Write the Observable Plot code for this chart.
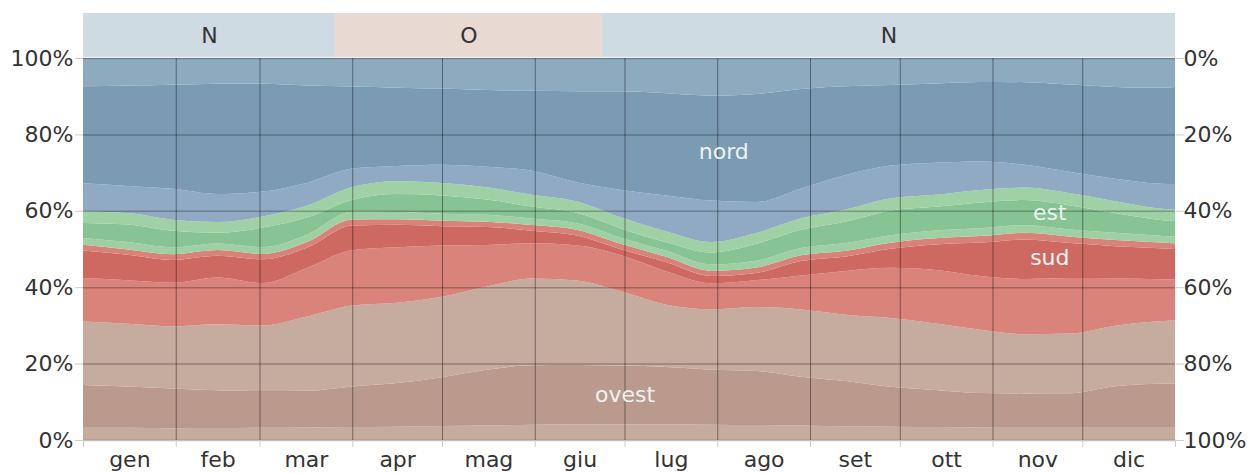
<!DOCTYPE html>
<html><head><meta charset="utf-8">
<script src="https://cdn.jsdelivr.net/npm/d3@7"></script>
<script src="https://cdn.jsdelivr.net/npm/@observablehq/plot@0.6"></script>
<style>body{margin:0;background:#fff;} svg{display:block;}</style>
</head><body><div id="chart"></div>
<script>
// ---- data (percent of hours, per band, sampled by day of year) ----
const days = [0,15,30,45,60,75,90,105,120,135,150,165,180,195,210,225,240,255,270,285,300,315,330,345,360,365];
const ovestNO = [3.2,3.2,3.1,3.1,3.2,3.3,3.4,3.5,3.7,3.8,4.0,4.1,4.1,4.1,4.0,3.9,3.8,3.6,3.5,3.4,3.3,3.2,3.2,3.2,3.2,3.2];
const ovest   = [11.2,10.8,10.4,9.9,9.6,9.6,10.7,11.5,12.8,14.6,15.6,15.5,15.3,14.9,14.3,14.1,12.8,11.9,10.5,9.8,9.1,9.1,9.1,10.9,11.5,11.6];
const ovestSO = [16.6,16.4,16.2,17.2,17.1,19.5,21.3,21.1,21.1,21.8,22.7,22.1,19.3,16.2,15.7,16.7,17.6,17.4,18.1,17.5,16.7,15.6,15.7,15.9,16.4,16.5];
const sudSO   = [11.4,11.4,11.4,12.2,11.1,12.8,14.6,14.6,13.5,10.9,9.2,9.2,9.4,8.7,6.8,7.0,8.9,11.5,13.2,14.1,14.2,14.6,14.6,12.5,11.0,10.7];
const sud     = [7.2,6.7,6.0,5.7,6.2,5.3,6.5,5.9,5.0,4.7,3.3,2.6,1.6,2.4,1.9,1.9,3.8,3.8,5.0,6.7,8.8,10.4,9.2,8.4,8.1,8.0];
const sudSE   = [1.5,1.4,1.5,1.5,1.4,1.5,1.6,1.5,1.5,1.4,1.5,1.5,1.4,1.4,1.3,1.4,1.5,1.5,1.6,1.6,1.7,1.8,1.7,1.6,1.5,1.5];
const estSE   = [1.8,1.9,1.8,1.7,1.8,1.9,2.0,1.9,1.8,1.8,1.7,1.7,1.6,1.6,1.7,1.8,1.9,2.0,2.0,2.1,2.1,2.0,1.9,1.9,1.8,1.8];
const est     = [3.9,4.6,4.3,2.8,5.1,4.5,3.2,4.7,4.8,4.0,3.1,2.7,2.4,2.2,3.1,4.4,4.8,5.7,6.5,6.2,6.8,6.6,6.3,5.2,4.1,4.0];
const estNE   = [3.0,3.0,2.9,2.8,2.9,3.1,3.3,3.4,3.3,3.2,3.1,3.0,2.9,2.8,2.7,2.8,3.0,3.1,3.2,3.2,3.3,3.3,3.2,3.1,3.0,3.0];
const nordNE  = [7.4,7.1,8.1,7.3,6.5,6.0,4.9,4.0,4.8,5.4,6.3,5.0,7.2,9.4,10.8,8.1,7.8,9.1,8.6,8.4,7.5,6.0,5.6,5.9,6.5,6.7];
const nord    = [25.4,26.3,27.2,28.8,28.2,25.5,21.6,20.6,20.0,20.1,20.9,23.8,25.7,26.6,27.3,28.2,26.1,23.3,21.2,20.9,21.0,21.8,23.0,24.1,25.1,25.4];
const nordNO  = [7.4,7.2,7.0,6.7,6.7,7.2,7.5,7.8,8.0,8.4,8.6,8.7,8.7,9.2,9.8,9.4,8.1,7.4,7.1,6.7,6.3,6.4,7.0,7.6,7.8,7.6];

const bandKeys = ["ovest-NO","ovest","ovest-SO","sud-SO","sud","sud-SE","est-SE","est","est-NE","nord-NE","nord","nord-NO"];
const bandSeries = [ovestNO, ovest, ovestSO, sudSO, sud, sudSE, estSE, est, estNE, nordNE, nord, nordNO];
const bandColors = ["#c6ab9f","#b99a8d","#c6ab9f","#d9837b","#ce6961","#d8827a","#9fd0a3","#87c393","#a0d1a4","#90aac3","#7b9bb3","#8eaabf"];

const monthNames = ["gen","feb","mar","apr","mag","giu","lug","ago","set","ott","nov","dic"];
const monthStarts = [0,31,59,90,120,151,181,212,243,273,304,334,365];

const headerLabels = ["N","O","N"];
const headerStart  = [0,84.2,173.5];
const headerEnd    = [84.2,173.5,365];

const bandLabelText = ["nord","est","sud","ovest"];
const bandLabelDay  = [214,323,323,181];
const bandLabelPct  = [0.755,0.595,0.479,0.118];

const yTicks = [0,0.2,0.4,0.6,0.8,1];

// ---- build tables ----
const rows = [];
bandKeys.forEach((k,i) => days.forEach((d,j) => rows.push({day:d, band:k, value:bandSeries[i][j]})));
const header = headerLabels.map((l,i) => ({label:l, start:headerStart[i], end:headerEnd[i]}));
const monthMid = monthNames.map((m,i) => ({name:m, mid:(monthStarts[i]+monthStarts[i+1])/2}));
const bandLabels = bandLabelText.map((t,i) => ({text:t, day:bandLabelDay[i], pct:bandLabelPct[i]}));

const chart = Plot.plot({
  width:1251, height:473,
  marginLeft:83, marginRight:76, marginTop:58, marginBottom:33,
  style:{fontFamily:"'DejaVu Sans', Verdana, sans-serif", fontSize:"22px", color:"#333", background:"#fff", overflow:"visible"},
  x:{domain:[0,365], axis:null},
  y:{domain:[0,1], axis:null},
  color:{domain:bandKeys, range:bandColors},
  marks:[
    Plot.rect(header.filter(d=>d.label==="N"), {x1:"start", x2:"end", y1:1.003, y2:1.118, fill:"#cfdbe3"}),
    Plot.rect(header.filter(d=>d.label==="O"), {x1:"start", x2:"end", y1:1.003, y2:1.118, fill:"#e8d9d3"}),
    Plot.text(header, {x:d=>(d.start+d.end)/2, y:1.058, text:"label", fill:"#333", fontSize:22}),
    Plot.areaY(rows, Plot.stackY({x:"day", y:"value", z:"band", fill:"band", order:bandKeys, offset:"normalize", curve:"monotone-x"})),
    Plot.ruleY(yTicks, {stroke:"#000", strokeOpacity:0.25, strokeWidth:1.5}),
    Plot.ruleX(monthStarts.slice(1,-1), {y1:0, y2:1, stroke:"#000", strokeOpacity:0.42}),
    Plot.axisX(monthStarts, {tickSize:7, stroke:"#ccc", tickFormat:()=>""}),
    Plot.axisX(monthMid.map(d=>d.mid), {tickSize:0, tickPadding:11, tickFormat:(d,i)=>monthNames[i], fill:"#333"}),
    Plot.axisY(yTicks, {anchor:"left", tickSize:8, tickPadding:2, stroke:"#ccc", fill:"#333", tickFormat:d=>Math.round(d*100)+"%"}),
    Plot.axisY(yTicks, {anchor:"right", tickSize:8, tickPadding:0, stroke:"#ccc", fill:"#333", tickFormat:d=>Math.round(100-d*100)+"%"}),
    Plot.text(bandLabels, {x:"day", y:"pct", text:"text", fill:"#eef2f2", fontSize:22})
  ]
});
document.getElementById("chart").appendChild(chart);
</script>
</body></html>
